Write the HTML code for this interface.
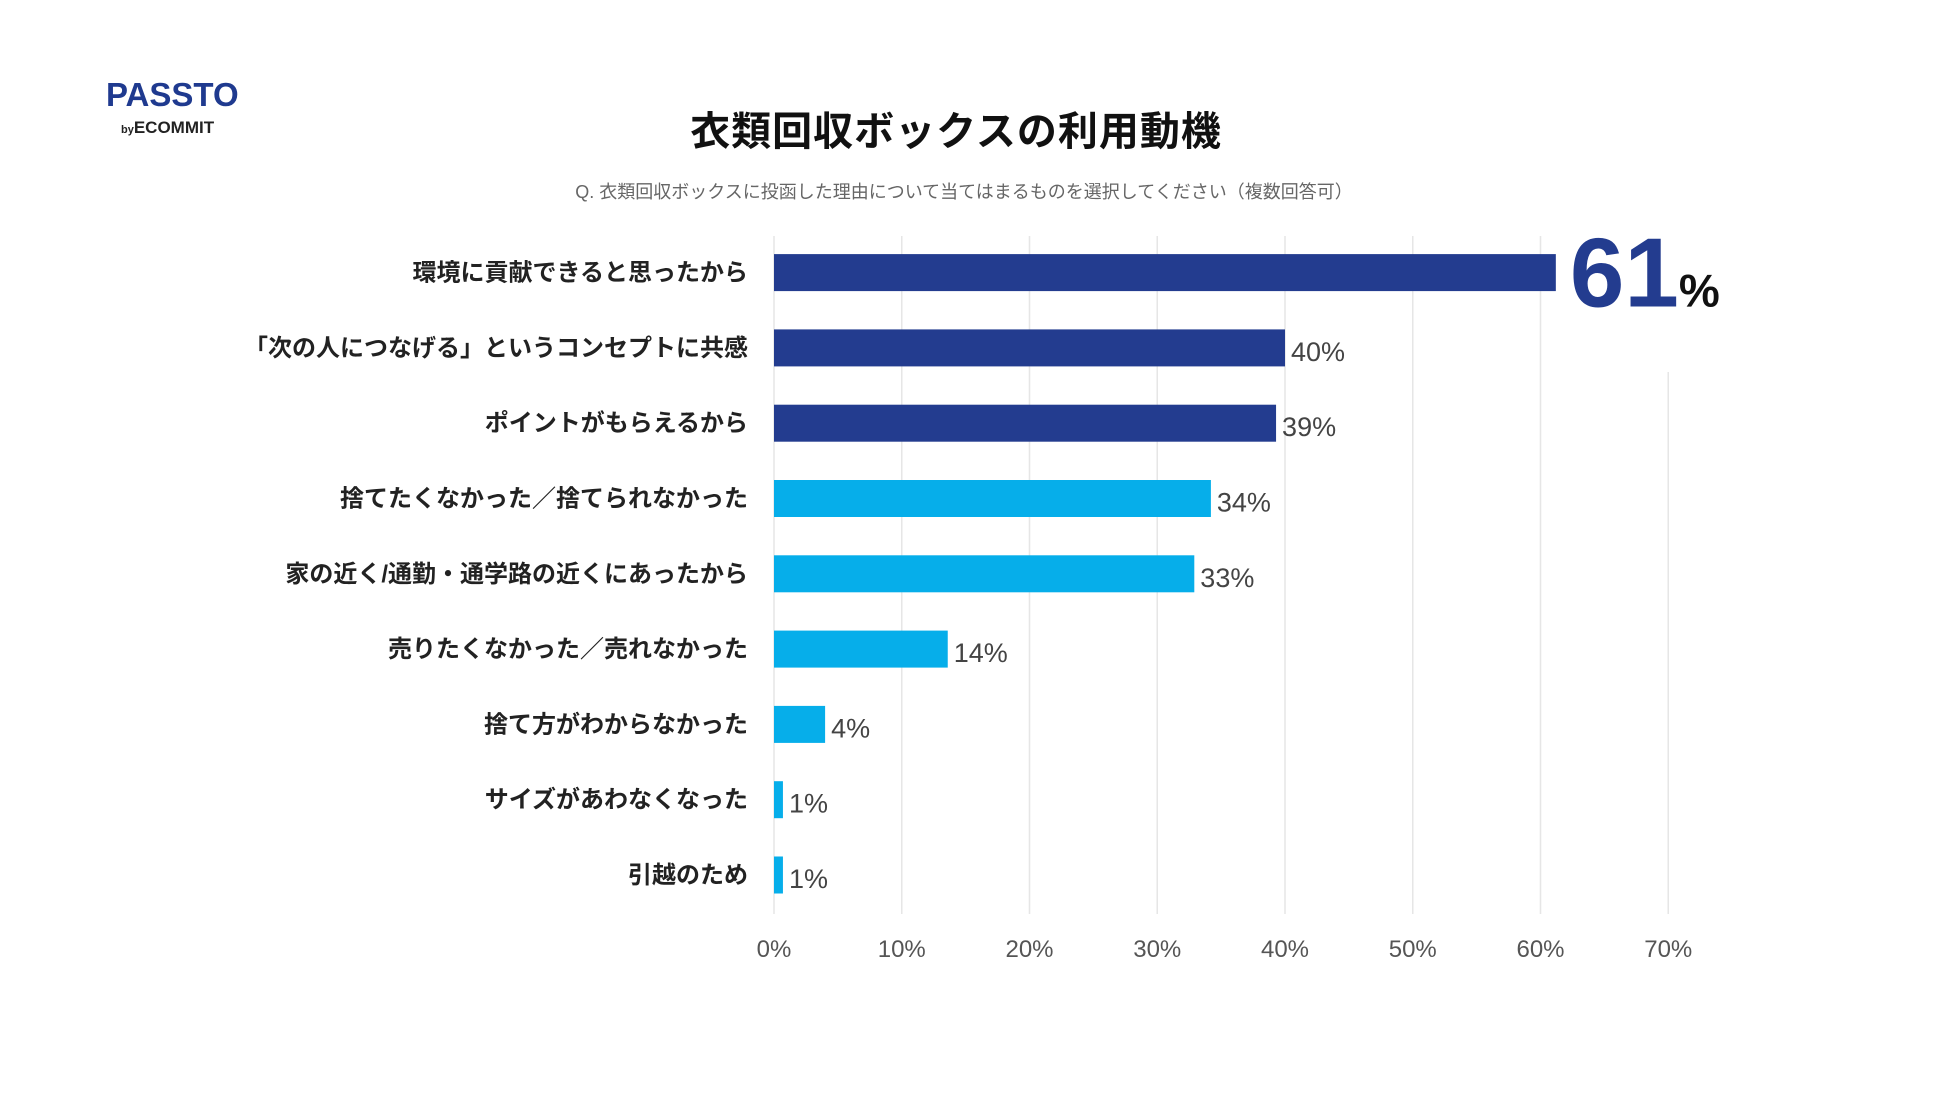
<!DOCTYPE html>
<html><head><meta charset="utf-8"><style>
body{margin:0;background:#fff;width:1950px;height:1097px;overflow:hidden;font-family:"Liberation Sans","Noto Sans CJK JP",sans-serif}
</style></head><body>
<svg width="1950" height="1097" id="c" style="font-family:'Liberation Sans','Noto Sans CJK JP',sans-serif">
<text x="106" y="106" font-size="33" font-weight="bold" fill="#1f3a8f">PASSTO</text>
<text x="121" y="133" font-size="11" font-weight="bold" fill="#222">by<tspan font-size="17">ECOMMIT</tspan></text>
<text x="956" y="145" font-size="40" font-weight="bold" fill="#111" text-anchor="middle" letter-spacing="1">衣類回収ボックスの利用動機</text>
<text x="964" y="198" font-size="18" fill="#666" text-anchor="middle">Q. 衣類回収ボックスに投函した理由について当てはまるものを選択してください（複数回答可）</text>
<g id="grid"></g><g id="bars"></g>
</svg>
<script>
const categories=["環境に貢献できると思ったから","「次の人につなげる」というコンセプトに共感","ポイントがもらえるから","捨てたくなかった／捨てられなかった","家の近く/通勤・通学路の近くにあったから","売りたくなかった／売れなかった","捨て方がわからなかった","サイズがあわなくなった","引越のため"];
const values=[61.2,40,39.3,34.2,32.9,13.6,4,0.7,0.7];
const highlight=[1,1,1,0,0,0,0,0,0];
const tickLabels=["0%","10%","20%","30%","40%","50%","60%","70%"];
const ticks=[0,10,20,30,40,50,60,70];
const ns="http://www.w3.org/2000/svg";
const x=v=>774+v*12.775;
const y=i=>272.6+i*75.3;
function mk(t,a,p){const e=document.createElementNS(ns,t);for(const k in a)e.setAttribute(k,a[k]);p.appendChild(e);return e;}
const g=document.getElementById('grid'),b=document.getElementById('bars');
ticks.forEach((t,i)=>{
 const l=mk('line',{x1:x(t),x2:x(t),y1:t===70?372:236,y2:914,stroke:'#e6e6e6','stroke-width':1.5},g);
 
 
 const tx=mk('text',{x:x(t),y:957,'font-size':24,fill:'#555','text-anchor':'middle'},g);
 tx.textContent=tickLabels[i];
 
 
});
categories.forEach((c,i)=>{
 const cy=y(i);
 const lb=mk('text',{x:748,y:cy+8,'font-size':24,'font-weight':'bold',fill:'#222','text-anchor':'end'},b);
 lb.textContent=c;
 
 
 const r=mk('rect',{x:x(0),y:cy-18.5,width:x(values[i])-x(0),height:37,fill:highlight[i]?'#233c8f':'#06aeea'},b);
 
 
 if(i===0){
  const t=mk('text',{x:x(values[i])+14,y:cy+34,'font-size':98,'font-weight':'bold',fill:'#233c8f'},b);
  t.textContent=Math.round(values[i]);
  
  
  const p=mk('tspan',{'font-size':46,fill:'#111'},t);p.textContent='%';
 }else{
  const t=mk('text',{x:x(values[i])+6,y:cy+13,'font-size':27,fill:'#444'},b);
  t.textContent=Math.round(values[i])+'%';
  
  
 }
});
</script>
</body></html>
